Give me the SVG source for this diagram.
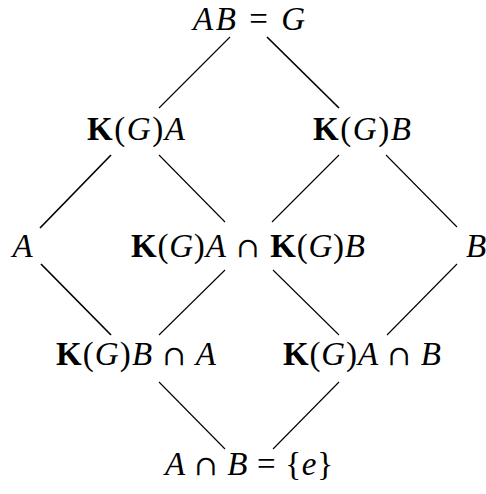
<svg xmlns="http://www.w3.org/2000/svg" width="486" height="494" viewBox="0 0 486 494">
<style>
text{font-family:"Liberation Serif","DejaVu Serif",serif;font-size:33px;fill:#000;font-style:italic;text-anchor:middle}
.b{font-weight:bold;font-style:normal}
.n{font-style:normal}
.c{font-style:normal;font-family:"DejaVu Serif",serif;font-size:28px}
line{stroke:#000;stroke-width:1.1}
.t{stroke-width:1.7}
</style>
<rect width="486" height="494" fill="#fff"/>
<g id="connectors">
<line x1="230" y1="37" x2="159" y2="108"/>
<line class="t" x1="267" y1="37" x2="339" y2="108"/>
<line class="t" x1="111" y1="155" x2="40" y2="228"/>
<line x1="159" y1="155" x2="225" y2="222"/>
<line x1="339" y1="155" x2="272" y2="222"/>
<line x1="386" y1="155" x2="457" y2="227"/>
<line class="t" x1="41" y1="264" x2="111" y2="335"/>
<line x1="225" y1="270" x2="159" y2="335"/>
<line x1="273" y1="270" x2="339" y2="335"/>
<line x1="457" y1="264" x2="387" y2="335"/>
<line x1="159" y1="382" x2="225" y2="449"/>
<line x1="339" y1="382" x2="273" y2="449"/>
</g>
<g id="top"><text x="249" y="30" textLength="112">AB <tspan class="n">=</tspan> G</text></g>
<g id="KGA"><text x="136" y="140" textLength="98"><tspan class="b">K</tspan><tspan class="n">(</tspan>G<tspan class="n">)</tspan>A</text></g>
<g id="KGB"><text x="362" y="140" textLength="98"><tspan class="b">K</tspan><tspan class="n">(</tspan>G<tspan class="n">)</tspan>B</text></g>
<g id="A"><text x="22.5" y="257">A</text></g>
<g id="mid"><text x="248" y="257" textLength="234"><tspan class="b">K</tspan><tspan class="n">(</tspan>G<tspan class="n">)</tspan>A<tspan class="c"> ∩ </tspan><tspan class="b">K</tspan><tspan class="n">(</tspan>G<tspan class="n">)</tspan>B</text></g>
<g id="B"><text x="476" y="257">B</text></g>
<g id="KGBA"><text x="136" y="365" textLength="160"><tspan class="b">K</tspan><tspan class="n">(</tspan>G<tspan class="n">)</tspan>B <tspan class="c">∩</tspan> A</text></g>
<g id="KGAB"><text x="362" y="365" textLength="158"><tspan class="b">K</tspan><tspan class="n">(</tspan>G<tspan class="n">)</tspan>A <tspan class="c">∩</tspan> B</text></g>
<g id="bottom"><text x="249" y="475" textLength="168">A <tspan class="c">∩</tspan> B <tspan class="n">=</tspan> <tspan class="n">{</tspan>e<tspan class="n">}</tspan></text></g>
</svg>
